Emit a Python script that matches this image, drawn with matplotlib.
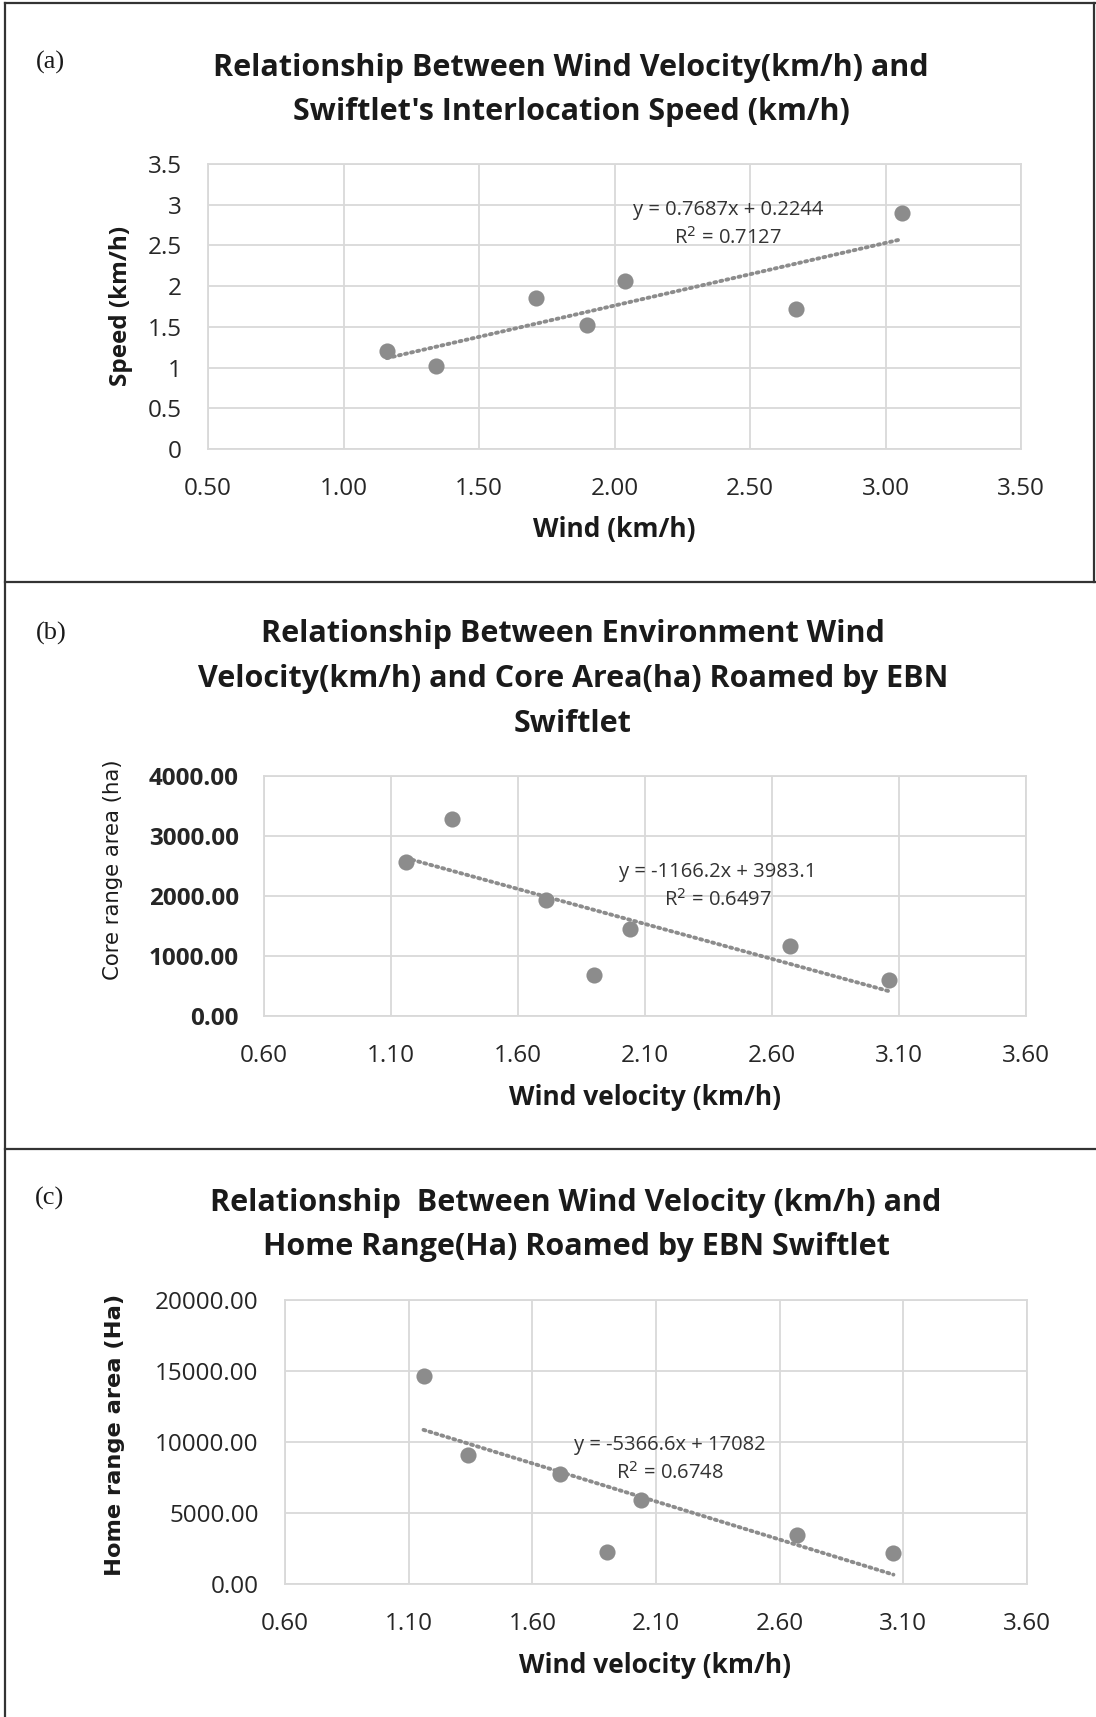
import numpy as np
import matplotlib
matplotlib.use("Agg")
import matplotlib.pyplot as plt
from matplotlib.lines import Line2D

# 数据
wind = [1.16, 1.34, 1.71, 1.90, 2.04, 2.67, 3.06]
speed = [1.20, 1.02, 1.85, 1.52, 2.06, 1.72, 2.90]
core_area = [2564, 3291, 1927, 691, 1455, 1164, 600]
home_area = [14615, 9077, 7769, 2231, 5923, 3462, 2154]

# 趋势线系数（图中公式）
fit_a = [0.7687, 0.2244]
fit_b = [-1166.2, 3983.1]
fit_c = [-5366.6, 17082]

titles = [
    "Relationship Between Wind Velocity(km/h) and\nSwiftlet's Interlocation Speed (km/h)",
    "Relationship Between Environment Wind\nVelocity(km/h) and Core Area(ha) Roamed by EBN\nSwiftlet",
    "Relationship  Between Wind Velocity (km/h) and\nHome Range(Ha) Roamed by EBN Swiftlet",
]
eq_texts = [
    "y = 0.7687x + 0.2244\nR$^2$ = 0.7127",
    "y = -1166.2x + 3983.1\nR$^2$ = 0.6497",
    "y = -5366.6x + 17082\nR$^2$ = 0.6748",
]

W, H = 1096, 1717
fig = plt.figure(figsize=(W / 100, H / 100), dpi=100)

SANS = ["Open Sans", "DejaVu Sans"]
GRID = "#d9d9d9"
DOT = "#8c8c8c"
TXT = "#1a1a1a"


def px_axes(l, t, r, b):
    return fig.add_axes([l / W, 1 - b / H, (r - l) / W, (b - t) / H])


def ftext(x, y, s, **kw):
    return fig.text(x / W, 1 - y / H, s, **kw)


def style_axes(ax, xlim, xstep, ylim, ystep, yfmt, ybold, ypad):
    ax.set_xlim(*xlim)
    ax.set_ylim(*ylim)
    ax.set_xticks(np.arange(xlim[0], xlim[1] + 1e-9, xstep))
    ax.set_yticks(np.arange(ylim[0], ylim[1] + 1e-9, ystep))
    ax.xaxis.set_major_formatter(matplotlib.ticker.FormatStrFormatter("%.2f"))
    ax.yaxis.set_major_formatter(matplotlib.ticker.FormatStrFormatter(yfmt))
    ax.grid(True, color=GRID, linewidth=1.3)
    ax.set_axisbelow(True)
    for sp in ax.spines.values():
        sp.set_color(GRID)
        sp.set_linewidth(1.3)
    ax.tick_params(length=0, labelsize=17.5, colors="#262626")
    ax.tick_params(axis="x", pad=20)
    ax.tick_params(axis="y", pad=ypad)
    for lab in ax.get_xticklabels():
        lab.set_family(SANS)
    for lab in ax.get_yticklabels():
        lab.set_family(SANS)
        if ybold:
            lab.set_fontweight("bold")


def draw_panel(ax, x, y, fit):
    ax.scatter(x, y, s=135, color="#8c8c8c", zorder=3, linewidths=0)
    xs = np.array([min(x), max(x)])
    ax.plot(xs, fit[0] * xs + fit[1], color=DOT, linewidth=2.8,
            linestyle=(0, (0.5, 1.1)), dash_capstyle="round", zorder=2)


# (a)
ax1 = px_axes(208, 164, 1021, 449)
draw_panel(ax1, wind, speed, fit_a)
style_axes(ax1, (0.5, 3.5), 0.5, (0, 3.5), 0.5, "%g", False, 19)

# (b)
ax2 = px_axes(264, 776, 1026, 1016)
draw_panel(ax2, wind, core_area, fit_b)
style_axes(ax2, (0.6, 3.6), 0.5, (0, 4000), 1000, "%.2f", True, 18)

# (c)
ax3 = px_axes(285, 1300, 1027, 1584)
draw_panel(ax3, wind, home_area, fit_c)
style_axes(ax3, (0.6, 3.6), 0.5, (0, 20000), 5000, "%.2f", False, 19)

# 标题
title_kw = dict(ha="center", va="center", fontsize=22, fontweight="bold",
                family=SANS, color=TXT, linespacing=1.65)
ftext(571, 90, titles[0], **title_kw)
ftext(573, 679, titles[1], **title_kw)
ftext(576, 1225, titles[2], **title_kw)

# 面板标签
for (x, y, s) in [(50, 62, "(a)"), (51, 633, "(b)"), (50, 1198, "(c)")]:
    ftext(x, y, s, ha="center", va="center", fontsize=19,
          family="Liberation Serif", color=TXT)

# 坐标轴标题
for (x, y, s) in [(614, 530, "Wind (km/h)"), (645, 1097, "Wind velocity (km/h)"),
                  (655, 1665, "Wind velocity (km/h)")]:
    ftext(x, y, s, ha="center", va="center", fontsize=19,
          fontweight="bold", family=SANS, color=TXT)

ftext(121, 306, "Speed (km/h)", ha="center", va="center", rotation=90,
      fontsize=17.5, fontweight="bold", family=SANS, color=TXT)
ftext(113, 870, "Core range area (ha)", ha="center", va="center", rotation=90,
      fontsize=15.3, family="DejaVu Sans", color=TXT)
ftext(115, 1435, "Home range area (Ha)", ha="center", va="center", rotation=90,
      fontsize=16.2, fontweight="bold", family="DejaVu Sans", color=TXT)

# 趋势线公式
eq_kw = dict(ha="center", va="center", fontsize=14.5, family=SANS,
             color="#333333", linespacing=1.4)
ftext(728, 224, eq_texts[0], **eq_kw)
ftext(718, 886, eq_texts[1], **eq_kw)
ftext(670, 1459, eq_texts[2], **eq_kw)

# 边框与分隔线
line_kw = dict(color="#333333", linewidth=1.6, transform=fig.transFigure)
for seg in [((5, 3), (W, 3)), ((5, 3), (5, H)), ((5, 582), (W, 582)),
            ((5, 1149), (W, 1149)), ((1094, 3), (1094, 582))]:
    (x0, y0), (x1, y1) = seg
    fig.add_artist(Line2D([x0 / W, x1 / W], [1 - y0 / H, 1 - y1 / H], **line_kw))

fig.savefig("out.png", dpi=100, facecolor="white")
